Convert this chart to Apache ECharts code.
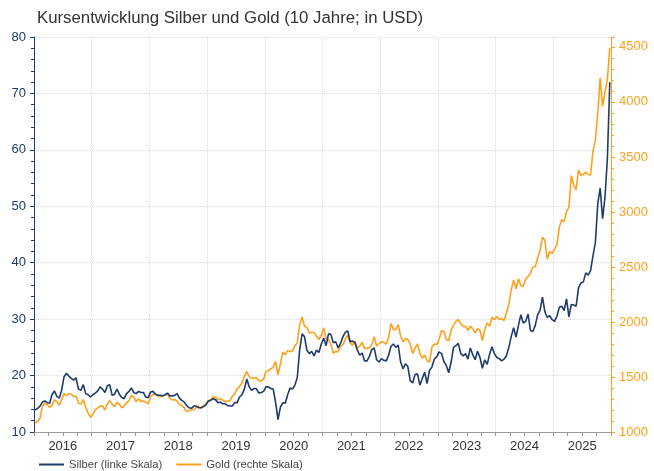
<!DOCTYPE html>
<html>
<head>
<meta charset="utf-8">
<title>Kursentwicklung Silber und Gold</title>
<script src="https://cdn.jsdelivr.net/npm/echarts@6/dist/echarts.min.js"></script>
<style>
  html, body { margin: 0; padding: 0; background: #fff; }
  #myChart { width: 654px; height: 471px; }
</style>
</head>
<body>
<div id="myChart"></div>
<script>
// Jahre auf der x-Achse
var years = ["2016", "2017", "2018", "2019", "2020", "2021", "2022", "2023", "2024", "2025"];

// Silber, USD, zwei Werte pro Monat (aus dem Bild geschaetzt)
var silver2016 = [13.9, 14.2, 14.6, 15.3, 15.5, 15.2, 15.1, 16.6, 17.3, 16.3, 16.0, 17.4, 19.8, 20.4, 19.9, 19.5, 19.2, 19.6, 17.6, 17.4, 18.4, 16.8, 16.6, 16.2];
var silver2017 = [16.6, 16.9, 17.3, 18.0, 17.6, 17.0, 18.2, 18.4, 16.5, 16.7, 17.6, 16.7, 16.1, 15.9, 16.8, 17.2, 17.8, 17.0, 16.8, 17.2, 17.0, 17.0, 16.2, 16.1];
var silver2018 = [17.1, 17.2, 16.7, 16.5, 16.5, 16.4, 16.6, 16.9, 16.4, 16.4, 16.5, 16.8, 16.0, 15.6, 15.3, 14.7, 14.3, 14.2, 14.6, 14.6, 14.3, 14.3, 14.5, 14.8];
var silver2019 = [15.5, 15.6, 15.9, 15.7, 15.2, 15.3, 15.0, 15.0, 14.7, 14.6, 14.6, 15.2, 15.2, 16.2, 16.6, 17.6, 19.4, 18.0, 17.4, 17.7, 17.7, 16.9, 17.0, 17.2];
var silver2020 = [18.0, 18.0, 17.7, 17.6, 15.2, 12.2, 14.4, 15.2, 15.1, 16.6, 17.8, 17.6, 18.3, 19.6, 24.6, 27.4, 26.9, 24.5, 23.9, 24.3, 23.5, 24.5, 24.1, 25.6];
var silver2021 = [26.6, 25.3, 27.4, 27.3, 25.8, 26.0, 24.9, 25.7, 26.9, 27.7, 27.9, 26.0, 26.1, 25.8, 24.5, 23.6, 24.0, 22.6, 22.6, 23.4, 24.6, 24.9, 22.8, 22.4];
var silver2022 = [23.0, 22.7, 22.6, 23.6, 25.2, 25.6, 25.0, 25.4, 22.4, 21.2, 22.1, 21.6, 19.1, 18.7, 20.2, 20.3, 18.3, 19.5, 20.6, 18.6, 20.9, 21.5, 22.9, 23.3];
var silver2023 = [24.2, 23.9, 22.5, 21.8, 20.5, 22.4, 25.0, 25.3, 25.7, 23.9, 23.5, 23.9, 22.9, 24.9, 23.7, 22.8, 24.3, 23.2, 21.3, 22.8, 22.0, 23.8, 25.1, 23.9];
var silver2024 = [23.2, 23.0, 22.6, 22.9, 23.5, 25.0, 26.9, 28.5, 26.8, 28.9, 30.8, 29.3, 29.6, 30.9, 28.0, 27.8, 28.9, 30.8, 31.6, 33.9, 31.3, 30.3, 30.6, 29.9];
var silver2025 = [29.6, 30.5, 32.1, 32.3, 31.5, 33.6, 30.4, 32.6, 32.5, 32.3, 35.6, 36.4, 36.6, 38.2, 37.8, 38.6, 41.2, 43.6, 50.5, 53.2, 47.8, 51.6, 58.5, 72.0];

// Gold, USD, zwei Werte pro Monat (aus dem Bild geschaetzt)
var gold2016 = [1085, 1095, 1125, 1235, 1262, 1248, 1225, 1242, 1292, 1275, 1245, 1292, 1348, 1330, 1350, 1345, 1320, 1327, 1262, 1255, 1292, 1225, 1172, 1135];
var gold2017 = [1160, 1202, 1220, 1237, 1235, 1200, 1252, 1285, 1255, 1230, 1270, 1255, 1220, 1236, 1266, 1282, 1332, 1315, 1275, 1302, 1276, 1281, 1273, 1256];
var gold2018 = [1322, 1340, 1345, 1330, 1320, 1326, 1336, 1345, 1305, 1290, 1296, 1280, 1252, 1240, 1220, 1182, 1196, 1200, 1202, 1226, 1234, 1216, 1240, 1252];
var gold2019 = [1285, 1290, 1320, 1315, 1292, 1305, 1290, 1276, 1282, 1285, 1326, 1346, 1392, 1412, 1445, 1505, 1548, 1505, 1490, 1486, 1496, 1466, 1465, 1480];
var gold2020 = [1552, 1556, 1576, 1586, 1642, 1520, 1622, 1726, 1702, 1742, 1730, 1736, 1782, 1812, 1975, 2045, 1962, 1950, 1900, 1906, 1902, 1870, 1840, 1880];
var gold2021 = [1945, 1852, 1840, 1795, 1716, 1732, 1730, 1780, 1792, 1846, 1880, 1810, 1786, 1830, 1762, 1780, 1816, 1760, 1760, 1766, 1792, 1866, 1782, 1802];
var gold2022 = [1822, 1815, 1800, 1862, 1985, 1932, 1932, 1976, 1870, 1820, 1850, 1840, 1800, 1712, 1765, 1800, 1715, 1670, 1700, 1648, 1632, 1770, 1800, 1792];
var gold2023 = [1842, 1920, 1915, 1840, 1830, 1922, 1972, 2005, 2020, 1985, 1960, 1960, 1925, 1962, 1940, 1900, 1940, 1922, 1832, 1932, 1990, 1962, 2042, 2022];
var gold2024 = [2050, 2022, 2030, 2012, 2082, 2162, 2292, 2382, 2302, 2392, 2332, 2322, 2392, 2412, 2442, 2500, 2502, 2582, 2652, 2770, 2742, 2572, 2642, 2622];
var gold2025 = [2662, 2702, 2862, 2930, 2912, 3002, 3042, 3330, 3242, 3202, 3380, 3332, 3342, 3362, 3340, 3336, 3550, 3650, 3900, 4220, 3960, 4090, 4210, 4490];

var silver = [].concat(silver2016, silver2017, silver2018, silver2019, silver2020,
  silver2021, silver2022, silver2023, silver2024, silver2025);
var gold = [].concat(gold2016, gold2017, gold2018, gold2019, gold2020,
  gold2021, gold2022, gold2023, gold2024, gold2025);

// Zeitpunkt als Bruchteil des Jahres (zwei Punkte pro Monat)
function toPairs(values) {
  return values.map(function (v, i) {
    return [2016 + (i + 0.5) / 24, v];
  });
}

var blue = "#1f3b6b";
var orange = "#ffa01c";
var gridColor = "#dcdcdc";
var fontName = "Liberation Sans";

var myChart = echarts.init(document.getElementById("myChart"));
myChart.setOption({
  animation: false,
  textStyle: { fontFamily: fontName },
  title: {
    text: "Kursentwicklung Silber und Gold (10 Jahre; in USD)",
    left: 32,
    top: 5,
    textStyle: { fontSize: 16.8, fontWeight: "normal", color: "#333", fontFamily: fontName }
  },
  legend: {
    left: 34,
    bottom: 0,
    padding: [0, 5, 1, 5],
    itemGap: 14,
    itemWidth: 25,
    itemHeight: 2,
    icon: "rect",
    textStyle: { fontSize: 11.2, color: "#444", fontFamily: fontName },
    data: ["Silber (linke Skala)", "Gold (rechte Skala)"]
  },
  grid: { left: 34, right: 43, top: 37, bottom: 39 },
  xAxis: [
    {
      // Jahreslabel in der Mitte jedes Jahres
      type: "category",
      data: years,
      boundaryGap: true,
      axisLine: { lineStyle: { color: "#9a9a9a" } },
      axisTick: { show: false },
      axisLabel: { color: "#333", fontSize: 13, margin: 8 },
      splitLine: { show: true, lineStyle: { color: gridColor, type: "dotted" } }
    },
    {
      // Quartalsstriche, traegt die Daten
      type: "value",
      min: 2016,
      max: 2026,
      interval: 0.25,
      position: "bottom",
      axisLine: { show: false },
      axisTick: { show: true, length: 4, lineStyle: { color: "#9a9a9a" } },
      axisLabel: { show: false },
      splitLine: { show: false }
    }
  ],
  yAxis: [
    {
      type: "value",
      min: 10,
      max: 80,
      interval: 10,
      axisLine: { show: true, lineStyle: { color: blue } },
      axisTick: { show: true, length: 4 },
      minorTick: { show: true, splitNumber: 5, length: 3 },
      axisLabel: { color: blue, fontSize: 13, margin: 8 },
      splitLine: { show: true, lineStyle: { color: gridColor, type: "dotted" } }
    },
    {
      type: "value",
      min: 1000,
      max: 4590,
      interval: 500,
      position: "right",
      axisLine: { show: true, lineStyle: { color: orange } },
      axisTick: { show: true, length: 4 },
      minorTick: { show: true, splitNumber: 5, length: 3 },
      axisLabel: {
        color: orange,
        fontSize: 13,
        margin: 8,
        showMaxLabel: false,
        formatter: function (v) { return String(v); }
      },
      splitLine: { show: false }
    }
  ],
  series: [
    {
      name: "Silber (linke Skala)",
      type: "line",
      xAxisIndex: 1,
      yAxisIndex: 0,
      data: toPairs(silver),
      showSymbol: false,
      symbol: "none",
      z: 3,
      lineStyle: { color: blue, width: 1.6 },
      itemStyle: { color: blue }
    },
    {
      name: "Gold (rechte Skala)",
      type: "line",
      xAxisIndex: 1,
      yAxisIndex: 1,
      data: toPairs(gold),
      showSymbol: false,
      symbol: "none",
      z: 2,
      lineStyle: { color: orange, width: 1.6 },
      itemStyle: { color: orange }
    }
  ]
});
</script>
</body>
</html>
